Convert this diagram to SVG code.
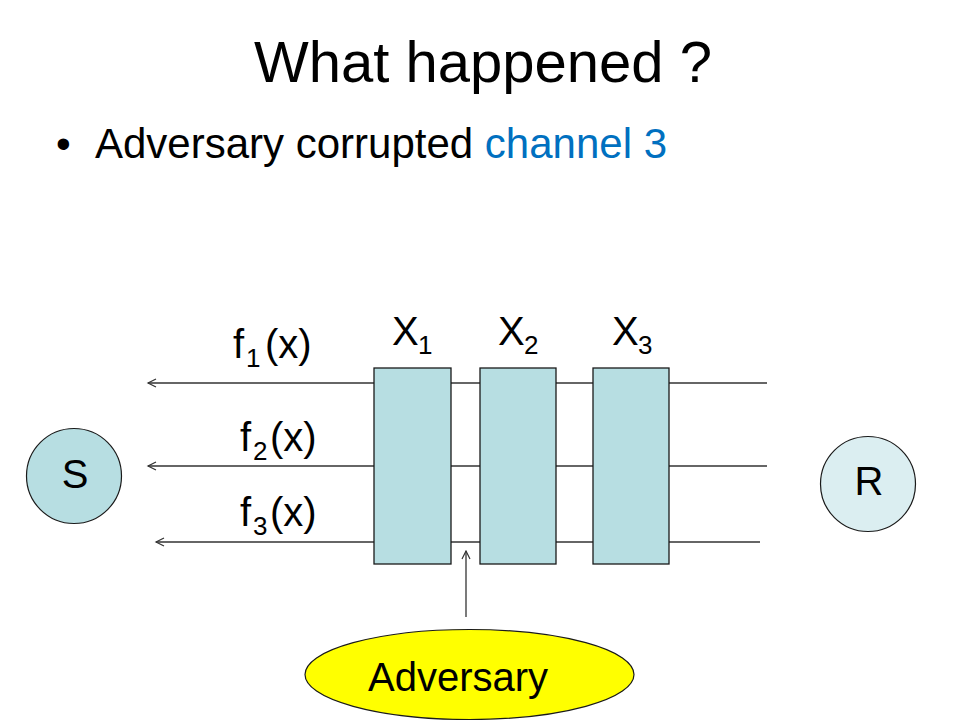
<svg xmlns="http://www.w3.org/2000/svg" width="960" height="720" viewBox="0 0 960 720">
<style>
text { font-family: "Liberation Sans", Arial, sans-serif; fill: #000; }
.box { fill: #b7dee2; stroke: #1a1a1a; stroke-width: 1.3; }
.wire { stroke: #333; stroke-width: 1.3; fill: none; }
.lbl { font-size: 40px; }
.sub { font-size: 26px; }
</style>
<defs>
<marker id="open" markerWidth="12" markerHeight="12" refX="9" refY="6" orient="auto" markerUnits="userSpaceOnUse">
<path d="M1,2 L9,6 L1,10" fill="none" stroke="#333" stroke-width="1.2"/>
</marker>
<marker id="openUp" markerWidth="12" markerHeight="12" refX="6" refY="1" orient="0" markerUnits="userSpaceOnUse">
<path d="M2,9 L6,1 L10,9" fill="none" stroke="#333" stroke-width="1.2"/>
</marker>
</defs>
<rect width="960" height="720" fill="#fff"/>

<text x="254" y="82" font-size="58">What happened ?</text>
<text x="56" y="158" font-size="42">•</text>
<text x="95" y="158" font-size="42">Adversary corrupted <tspan fill="#0070c0">channel 3</tspan></text>

<g id="connectors">
<line class="wire" x1="767" y1="383" x2="148" y2="383" marker-end="url(#open)"/>
<line class="wire" x1="767" y1="466" x2="148" y2="466" marker-end="url(#open)"/>
<line class="wire" x1="760" y1="542" x2="156" y2="542" marker-end="url(#open)"/>
<line class="wire" x1="466" y1="617" x2="466" y2="551" marker-end="url(#openUp)"/>
</g>

<g id="label-f1"><text class="lbl" x="233" y="358">f<tspan class="sub" x="246" dy="9">1</tspan><tspan x="265" dy="-9">(x)</tspan></text></g>
<g id="label-f2"><text class="lbl" x="240" y="451">f<tspan class="sub" x="253" dy="9">2</tspan><tspan x="270" dy="-9">(x)</tspan></text></g>
<g id="label-f3"><text class="lbl" x="240" y="526">f<tspan class="sub" x="253" dy="9">3</tspan><tspan x="270" dy="-9">(x)</tspan></text></g>

<g id="node-X1">
<rect class="box" x="374" y="368" width="77" height="196"/>
<text class="lbl" x="392" y="345">X<tspan class="sub" x="418" dy="9">1</tspan></text>
</g>
<g id="node-X2">
<rect class="box" x="480" y="368" width="76" height="196"/>
<text class="lbl" x="498" y="345">X<tspan class="sub" x="524" dy="9">2</tspan></text>
</g>
<g id="node-X3">
<rect class="box" x="593" y="368" width="76" height="196"/>
<text class="lbl" x="612" y="345">X<tspan class="sub" x="638" dy="9">3</tspan></text>
</g>

<g id="node-S">
<circle cx="74" cy="476" r="47.5" fill="#b7dee2" stroke="#1a1a1a" stroke-width="1.2"/>
<text x="75" y="488" font-size="40" text-anchor="middle">S</text>
</g>
<g id="node-R">
<circle cx="868" cy="484" r="47.5" fill="#dbeef1" stroke="#1a1a1a" stroke-width="1.2"/>
<text x="869" y="495" font-size="40" text-anchor="middle">R</text>
</g>

<g id="node-Adversary">
<ellipse cx="469.5" cy="674.5" rx="164.5" ry="45" fill="#ffff00" stroke="#1a1a1a" stroke-width="1.2"/>
<text x="458" y="691" font-size="40" text-anchor="middle">Adversary</text>
</g>
</svg>
